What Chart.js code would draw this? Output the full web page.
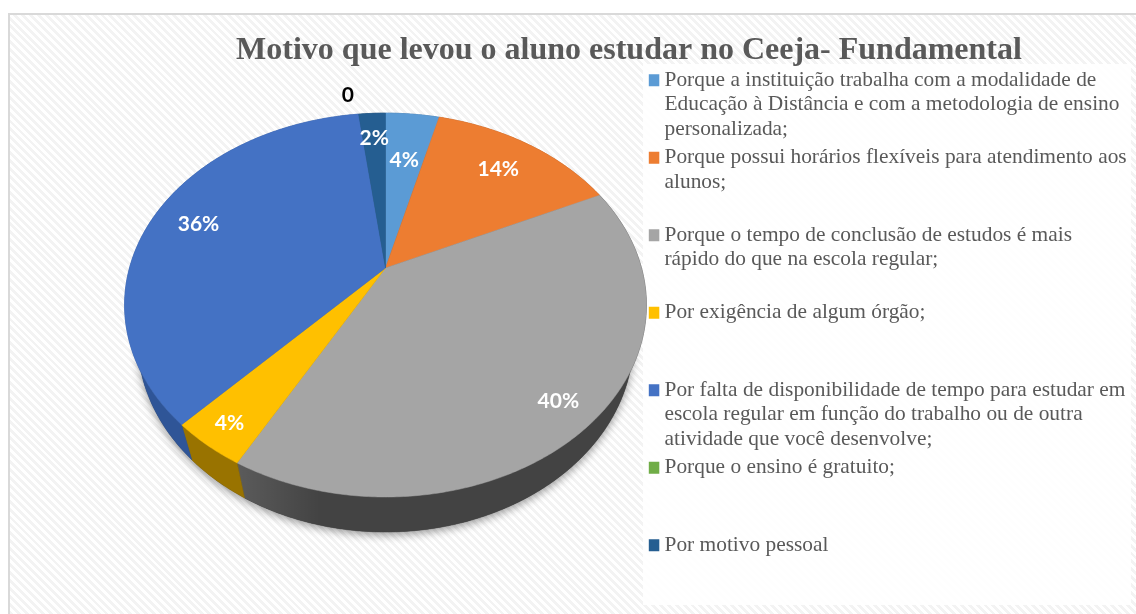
<!DOCTYPE html>
<html>
<head>
<meta charset="utf-8">
<style>
  html, body { margin: 0; height: 100%; background: #fff; overflow: hidden; }
  #frame {
    position: absolute; left: 8px; top: 13px; width: 1128px; height: 601px;
    box-sizing: border-box; border: 2px solid #d9d9d9; border-right: 0; border-bottom: 0;
    background: repeating-linear-gradient(45deg, #f3f3f3 0 2.8px, #fff 2.8px 5.6px);
  }
  #panel { position: absolute; left: 643px; top: 64px; width: 488px; height: 541px; background: rgba(255,255,255,.85); }
  canvas { position: absolute; left: 0; top: 0; }
</style>
</head>
<body>
<div id="frame"></div>
<div id="panel"></div>
<canvas id="chart" width="1136" height="614"></canvas>
<script src="https://cdn.jsdelivr.net/npm/chart.js@4"></script>
<script>
const chartTitle = "Motivo que levou o aluno estudar no Ceeja- Fundamental";

// every legend entry takes three lines in the original, blank ones included
const categories = [
  ["Porque a instituição trabalha com a modalidade de", "Educação à Distância e com a metodologia de ensino", "personalizada;"],
  ["Porque possui horários flexíveis para atendimento aos", "alunos;", ""],
  ["Porque o tempo de conclusão de estudos é mais", "rápido do que na escola regular;", ""],
  ["Por exigência de algum órgão;", "", ""],
  ["Por falta de disponibilidade de tempo para estudar em", "escola regular em função do trabalho ou de outra", "atividade que você desenvolve;"],
  ["Porque o ensino é gratuito;", "", ""],
  ["Por motivo pessoal"]
];
const values = [4, 14, 40, 4, 36, 0, 2];
const colors = ["#5b9bd5", "#ed7d31", "#a5a5a5", "#ffc000", "#4472c4", "#70ad47", "#255e91"];
const wallColors = ["#3d6d99", "#a8551f", "#434343", "#997300", "#2f5597", "#4f7a32", "#1a4266"];
const labelRadius = [0.66, 0.77, 0.866, 0.892, 0.805, 1.155, 0.815];
const labelTurn = [0, 0, 0, 0, 0, -0.03, 0];

// perspective of the tilted pie, the lower rim is a bit smaller and further down
const tilt = { cx: 385.5, cy: 268, rx: 256, ry: 184.8, k: -0.193, depth: 35, shrink: 0.95 };

function project(angle, r) {
  const u = Math.cos(angle) * r, v = Math.sin(angle) * r;
  const d = 1 + tilt.k * v;
  return { x: tilt.cx + tilt.rx * u / d, y: tilt.cy + tilt.ry * v / d };
}

function rimPoints(start, end, lower) {
  const pts = [], n = Math.max(2, Math.ceil((end - start) / 0.01));
  for (let i = 0; i <= n; i++) {
    const p = project(start + (end - start) * i / n, 1);
    pts.push(lower ? { x: tilt.cx + (p.x - tilt.cx) * tilt.shrink, y: p.y + tilt.depth } : p);
  }
  return pts;
}

function tracePoints(ctx, pts) {
  pts.forEach(p => ctx.lineTo(p.x, p.y));
}

// pie slices keep the library's angles but are drawn through the tilt
Chart.ArcElement.prototype.draw = function (ctx) {
  if (this.endAngle - this.startAngle <= 0) return;
  const color = this.options.backgroundColor;
  ctx.save();
  ctx.beginPath();
  ctx.moveTo(tilt.cx, tilt.cy);
  tracePoints(ctx, rimPoints(this.startAngle, this.endAngle, false));
  ctx.closePath();
  ctx.fillStyle = color;
  ctx.strokeStyle = color;
  ctx.lineWidth = 0.5;
  ctx.fill();
  ctx.stroke();
  ctx.restore();
};

const wallPlugin = {
  id: "wall",
  afterLayout(chart) {
    // legend sits beside the pie, under the title
    chart.legend.left = 648.8;
    chart.legend.top = 65.5;
  },
  beforeDatasetsDraw(chart) {
    const ctx = chart.ctx;
    const arcs = chart.getDatasetMeta(0).data;

    // soft shadow under the whole disc
    ctx.save();
    ctx.shadowColor = "rgba(0,0,0,.4)";
    ctx.shadowBlur = 9;
    ctx.shadowOffsetY = 3;
    ctx.fillStyle = "#444";
    ctx.beginPath();
    tracePoints(ctx, rimPoints(0, Math.PI * 2, true));
    ctx.closePath();
    ctx.fill();
    ctx.restore();

    arcs.forEach((arc, i) => {
      if (arc.endAngle - arc.startAngle <= 0) return;
      ctx.beginPath();
      tracePoints(ctx, rimPoints(arc.startAngle, arc.endAngle, false));
      tracePoints(ctx, rimPoints(arc.startAngle, arc.endAngle, true).reverse());
      ctx.closePath();
      ctx.fillStyle = wallColors[i];
      ctx.strokeStyle = wallColors[i];
      ctx.lineWidth = 0.5;
      ctx.fill();
      ctx.stroke();
      if (i === 2) {
        // the grey wall gets lighter towards its left end
        const g = ctx.createLinearGradient(237, 0, 320, 0);
        g.addColorStop(0, "rgba(255,255,255,.13)");
        g.addColorStop(1, "rgba(255,255,255,0)");
        ctx.fillStyle = g;
        ctx.fill();
      }
    });
  },
  afterDatasetsDraw(chart) {
    const ctx = chart.ctx;
    ctx.save();
    ctx.font = "bold 21px Lato";
    ctx.textAlign = "center";
    ctx.textBaseline = "middle";
    chart.getDatasetMeta(0).data.forEach((arc, i) => {
      const p = project((arc.startAngle + arc.endAngle) / 2 + labelTurn[i], labelRadius[i]);
      ctx.fillStyle = values[i] === 0 ? "#000" : "#fff";
      ctx.fillText(values[i] === 0 ? "0" : values[i] + "%", p.x, p.y);
    });
    ctx.restore();
  }
};

new Chart(document.getElementById("chart"), {
  type: "pie",
  data: {
    labels: categories,
    datasets: [{ data: values, backgroundColor: colors, borderWidth: 0 }]
  },
  plugins: [wallPlugin],
  options: {
    responsive: false,
    animation: false,
    layout: { padding: { left: 126, right: 4, top: 0, bottom: 0 } },
    plugins: {
      tooltip: { enabled: false },
      title: {
        display: true,
        text: chartTitle,
        color: "#595959",
        font: { family: "Liberation Serif", size: 32, weight: "bold" },
        padding: { top: 32, bottom: 4 }
      },
      legend: {
        position: "right",
        align: "start",
        labels: {
          boxWidth: 1,
          boxHeight: 1,
          padding: 4,
          font: { family: "Liberation Serif", size: 21.4, lineHeight: 1.145 },
          generateLabels: () => categories.map((text, i) => ({
            text: text,
            fillStyle: colors[i],
            strokeStyle: colors[i],
            fontColor: "#595959",
            lineWidth: 11,
            hidden: false,
            index: i
          }))
        }
      }
    }
  }
});
</script>
</body>
</html>
